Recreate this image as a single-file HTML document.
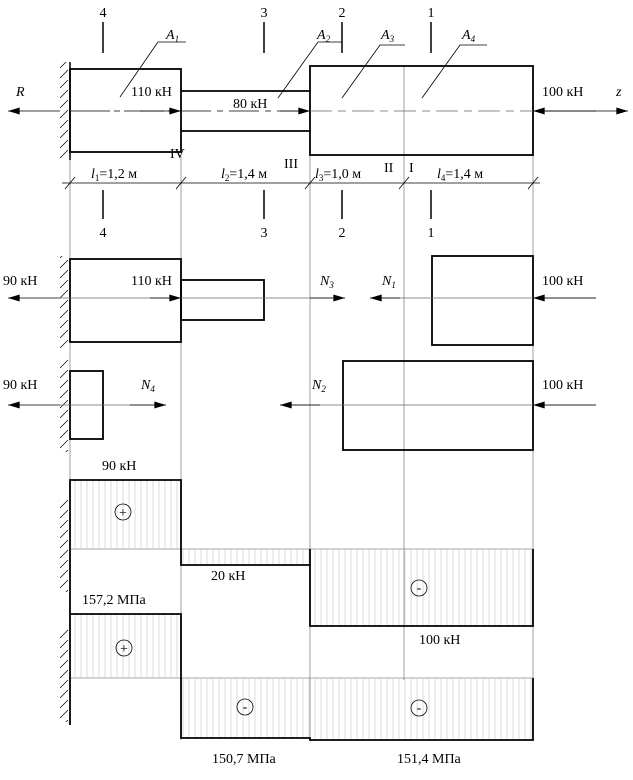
<!DOCTYPE html>
<html><head><meta charset="utf-8"><style>
html,body{margin:0;padding:0;background:#fff}
svg{display:block}
text{font-family:"Liberation Serif",serif;font-size:14px;fill:#000}
.i{font-style:italic}
</style></head><body>
<svg width="633" height="780" viewBox="0 0 633 780" xmlns="http://www.w3.org/2000/svg">
<defs>
<marker id="ar" viewBox="0 0 10 6" refX="10" refY="3" markerWidth="18" markerHeight="7" markerUnits="userSpaceOnUse" orient="auto"><path d="M0,0L10,3L0,6z" fill="#000"/></marker>
<pattern id="vh" width="6" height="10" patternUnits="userSpaceOnUse"><line x1="3" y1="0" x2="3" y2="10" stroke="#ccc" stroke-width="0.7"/></pattern>
<pattern id="wh" width="10" height="10" patternUnits="userSpaceOnUse"><line x1="0" y1="8" x2="8" y2="0" stroke="#000" stroke-width="0.7"/></pattern>
</defs>
<g stroke="#888" stroke-width="0.8" fill="none">
<line x1="70" y1="155" x2="70" y2="480"/>
<line x1="181" y1="155" x2="181" y2="740"/>
<line x1="310" y1="155" x2="310" y2="740"/>
<line x1="404" y1="66" x2="404" y2="680"/>
<line x1="533" y1="155" x2="533" y2="740"/>
<line x1="70" y1="549" x2="533" y2="549"/>
<line x1="70" y1="678" x2="533" y2="678"/>
</g>
<g stroke="#000" stroke-width="0.7">
<rect x="58" y="62" width="12" height="98" fill="url(#wh)" stroke="none"/>
<rect x="58" y="256" width="12" height="92" fill="url(#wh)" stroke="none"/>
<rect x="58" y="360" width="12" height="92" fill="url(#wh)" stroke="none"/>
<rect x="58" y="500" width="12" height="92" fill="url(#wh)" stroke="none"/>
<rect x="58" y="630" width="12" height="92" fill="url(#wh)" stroke="none"/>
</g>
<rect x="70" y="480" width="111" height="69" fill="url(#vh)"/>
<rect x="181" y="549" width="129" height="16" fill="url(#vh)"/>
<rect x="310" y="549" width="223" height="77" fill="url(#vh)"/>
<rect x="70" y="614" width="111" height="64" fill="url(#vh)"/>
<rect x="181" y="678" width="129" height="60" fill="url(#vh)"/>
<rect x="310" y="678" width="223" height="62" fill="url(#vh)"/>
<g stroke="#000" stroke-width="1.8" fill="none">
<rect x="70" y="69" width="111" height="83"/>
<line x1="181" y1="91" x2="310" y2="91"/><line x1="181" y1="131" x2="310" y2="131"/>
<rect x="310" y="66" width="223" height="89"/>
<line x1="70" y1="62" x2="70" y2="160" stroke-width="1.5"/>
<rect x="70" y="259" width="111" height="83"/>
<rect x="181" y="280" width="83" height="40"/>
<rect x="432" y="256" width="101" height="89"/>
<rect x="70" y="371" width="33" height="68"/>
<rect x="343" y="361" width="190" height="89"/>
<polyline points="70,725 70,480 181,480 181,565 310,565 310,626 533,626 533,549"/>
<polyline points="70,614 181,614 181,738 310,738 310,740 533,740 533,678"/>
<line x1="310" y1="565" x2="310" y2="549"/>
</g>
<g stroke="#000" stroke-width="1.5">
<line x1="103" y1="22" x2="103" y2="53"/><line x1="264" y1="22" x2="264" y2="53"/><line x1="342" y1="22" x2="342" y2="53"/><line x1="431" y1="22" x2="431" y2="53"/>
<line x1="103" y1="190" x2="103" y2="219"/><line x1="264" y1="190" x2="264" y2="219"/><line x1="342" y1="190" x2="342" y2="219"/><line x1="431" y1="190" x2="431" y2="219"/>
</g>
<g stroke="#000" stroke-width="0.8">
<line x1="62" y1="183" x2="540" y2="183"/>
<line x1="65" y1="189" x2="75" y2="177"/><line x1="176" y1="189" x2="186" y2="177"/><line x1="305" y1="189" x2="315" y2="177"/><line x1="399" y1="189" x2="409" y2="177"/><line x1="528" y1="189" x2="538" y2="177"/>
</g>
<g stroke="#000" stroke-width="0.8" fill="none">
<line x1="60" y1="111" x2="8" y2="111" marker-end="url(#ar)"/>
<line x1="70" y1="111" x2="181" y2="111" stroke-dasharray="40,4,6,4"/>
<line x1="140" y1="111" x2="181" y2="111" marker-end="url(#ar)"/>
<line x1="181" y1="111" x2="310" y2="111" stroke-dasharray="30,6,6,6"/>
<line x1="280" y1="111" x2="310" y2="111" marker-end="url(#ar)"/>
<line x1="310" y1="111" x2="533" y2="111" stroke-dasharray="22,6,8,6" stroke="#666"/>
<line x1="596" y1="111" x2="533" y2="111" marker-end="url(#ar)"/>
<line x1="533" y1="111" x2="628" y2="111" marker-end="url(#ar)"/>
<line x1="60" y1="298" x2="8" y2="298" marker-end="url(#ar)"/>
<line x1="60" y1="298" x2="345" y2="298" stroke="#666"/>
<line x1="150" y1="298" x2="181" y2="298" marker-end="url(#ar)"/>
<line x1="310" y1="298" x2="345" y2="298" marker-end="url(#ar)"/>
<line x1="596" y1="298" x2="370" y2="298" stroke="#666"/>
<line x1="400" y1="298" x2="370" y2="298" marker-end="url(#ar)"/>
<line x1="596" y1="298" x2="533" y2="298" marker-end="url(#ar)"/>
<line x1="60" y1="405" x2="8" y2="405" marker-end="url(#ar)"/>
<line x1="60" y1="405" x2="166" y2="405" stroke="#666"/>
<line x1="130" y1="405" x2="166" y2="405" marker-end="url(#ar)"/>
<line x1="596" y1="405" x2="280" y2="405" stroke="#666"/>
<line x1="320" y1="405" x2="280" y2="405" marker-end="url(#ar)"/>
<line x1="596" y1="405" x2="533" y2="405" marker-end="url(#ar)"/>
<line x1="120" y1="97" x2="158" y2="42"/><line x1="158" y1="42" x2="186" y2="42"/>
<line x1="278" y1="98" x2="318" y2="42"/><line x1="318" y1="42" x2="342" y2="42"/>
<line x1="342" y1="98" x2="380" y2="45"/><line x1="380" y1="45" x2="405" y2="45"/>
<line x1="422" y1="98" x2="460" y2="45"/><line x1="460" y1="45" x2="487" y2="45"/>
<circle cx="123" cy="512" r="8"/><circle cx="419" cy="588" r="8"/>
<circle cx="124" cy="648" r="8"/><circle cx="245" cy="707" r="8"/><circle cx="419" cy="708" r="8"/>
</g>
<g text-anchor="middle">
<text x="103" y="17">4</text><text x="264" y="17">3</text><text x="342" y="17">2</text><text x="431" y="17">1</text>
<text x="103" y="237">4</text><text x="264" y="237">3</text><text x="342" y="237">2</text><text x="431" y="237">1</text>
<text x="123" y="517" font-size="12">+</text><text x="124" y="653" font-size="12">+</text>
<text x="419" y="592">-</text><text x="245" y="711">-</text><text x="419" y="712">-</text>
</g>
<text class="i" x="166" y="39">A<tspan font-size="9" dy="3">1</tspan></text>
<text class="i" x="317" y="39">A<tspan font-size="9" dy="3">2</tspan></text>
<text class="i" x="381" y="39">A<tspan font-size="9" dy="3">3</tspan></text>
<text class="i" x="462" y="39">A<tspan font-size="9" dy="3">4</tspan></text>
<text class="i" x="16" y="96">R</text>
<text class="i" x="616" y="96">z</text>
<text x="131" y="96">110 кН</text>
<text x="233" y="108">80 кН</text>
<text x="542" y="96">100 кН</text>
<text x="170" y="158">IV</text>
<text x="284" y="168">III</text>
<text x="384" y="172">II</text>
<text x="409" y="172">I</text>
<text x="91" y="178"><tspan class="i">l</tspan><tspan font-size="9" dy="3">1</tspan><tspan dy="-3">=1,2 м</tspan></text>
<text x="221" y="178"><tspan class="i">l</tspan><tspan font-size="9" dy="3">2</tspan><tspan dy="-3">=1,4 м</tspan></text>
<text x="315" y="178"><tspan class="i">l</tspan><tspan font-size="9" dy="3">3</tspan><tspan dy="-3">=1,0 м</tspan></text>
<text x="437" y="178"><tspan class="i">l</tspan><tspan font-size="9" dy="3">4</tspan><tspan dy="-3">=1,4 м</tspan></text>
<text x="3" y="285">90 кН</text>
<text x="131" y="285">110 кН</text>
<text class="i" x="320" y="285">N<tspan font-size="9" dy="3">3</tspan></text>
<text class="i" x="382" y="285">N<tspan font-size="9" dy="3">1</tspan></text>
<text x="542" y="285">100 кН</text>
<text x="3" y="389">90 кН</text>
<text class="i" x="141" y="389">N<tspan font-size="9" dy="3">4</tspan></text>
<text class="i" x="312" y="389">N<tspan font-size="9" dy="3">2</tspan></text>
<text x="542" y="389">100 кН</text>
<text x="102" y="470">90 кН</text>
<text x="211" y="580">20 кН</text>
<text x="82" y="604">157,2 МПа</text>
<text x="419" y="644">100 кН</text>
<text x="212" y="763">150,7 МПа</text>
<text x="397" y="763">151,4 МПа</text>
</svg>
</body></html>
